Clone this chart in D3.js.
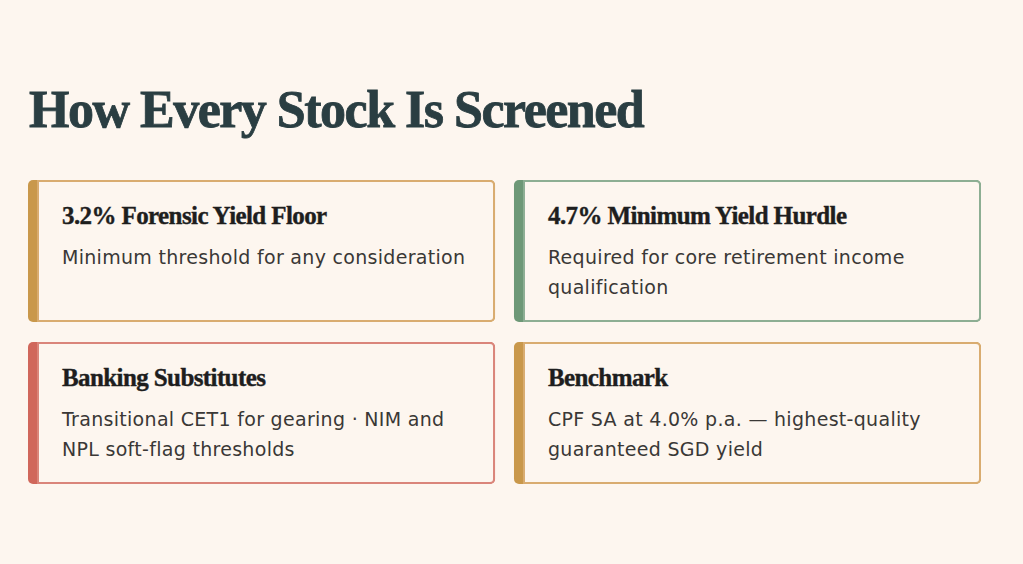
<!DOCTYPE html>
<html>
<head>
<meta charset="utf-8">
<script src="https://cdn.jsdelivr.net/npm/d3@7"></script>
<style>
  html, body { margin: 0; padding: 0; background: #FDF6EF; }
  svg { display: block; }
</style>
</head>
<body>
<svg id="chart" width="1023" height="564"></svg>
<script>
// ---- Data ----
const pageTitle = "How Every Stock Is Screened";
const cardTitles = [
  "3.2% Forensic Yield Floor",
  "4.7% Minimum Yield Hurdle",
  "Banking Substitutes",
  "Benchmark"
];
const cardBodies = [
  ["Minimum threshold for any consideration"],
  ["Required for core retirement income", "qualification"],
  ["Transitional CET1 for gearing · NIM and", "NPL soft-flag thresholds"],
  ["CPF SA at 4.0% p.a. — highest-quality", "guaranteed SGD yield"]
];
const cardAccent = ["gold", "green", "red", "gold"];

// ---- Styles ----
const palette = {
  gold:  { bar: "#C9984B", border: "#D9AC70" },
  green: { bar: "#6E9877", border: "#8DAE93" },
  red:   { bar: "#D0675B", border: "#DA857A" }
};

const svg = d3.select("#chart");
const W = 1023, H = 564;

svg.append("rect").attr("width", W).attr("height", H).attr("fill", "#FDF6EF");

svg.append("text")
  .attr("x", 29).attr("y", 127)
  .attr("font-family", "Liberation Serif, serif")
  .attr("font-weight", 700)
  .attr("font-size", 52)
  .attr("letter-spacing", -1.5)
  .attr("fill", "#2A3E42")
  .attr("stroke", "#2A3E42")
  .attr("stroke-width", 0.8)
  .text(pageTitle);

// grid layout
const cols = d3.scaleBand().domain([0, 1]).range([28, 981]).paddingInner(0.039);
const rows = d3.scaleBand().domain([0, 1]).range([180, 484]).paddingInner(0.1235);

const cards = svg.selectAll("g.card")
  .data(cardTitles.map((t, i) => ({ title: t, body: cardBodies[i], accent: cardAccent[i], i })))
  .join("g")
  .attr("class", "card")
  .attr("transform", d => `translate(${cols(d.i % 2)},${rows(Math.floor(d.i / 2))})`);

const cw = cols.bandwidth(), ch = rows.bandwidth();
const r = 5, barW = 10;

cards.append("rect")
  .attr("x", 0).attr("y", 0).attr("width", cw).attr("height", ch)
  .attr("rx", r).attr("ry", r)
  .attr("fill", d => palette[d.accent].bar);

cards.append("path")
  .attr("d", () => {
    const x0 = barW, y0 = 1, x1 = cw - 1, y1 = ch - 1, rr = r - 1;
    return `M${x0},${y0} H${x1 - rr} A${rr},${rr} 0 0 1 ${x1},${y0 + rr} V${y1 - rr} A${rr},${rr} 0 0 1 ${x1 - rr},${y1} H${x0} Z`;
  })
  .attr("fill", "#FDF6EF")
  .attr("stroke", d => palette[d.accent].border)
  .attr("stroke-width", 2);

cards.append("text")
  .attr("x", 34).attr("y", 44)
  .attr("font-family", "Liberation Serif, serif")
  .attr("font-weight", 700)
  .attr("font-size", 25)
  .attr("letter-spacing", -0.6)
  .attr("fill", "#1E1E1E")
  .attr("stroke", "#1E1E1E")
  .attr("stroke-width", 0.4)
  .text(d => d.title);

cards.each(function(d) {
  const g = d3.select(this);
  g.selectAll("text.body")
    .data(d.body)
    .join("text")
    .attr("class", "body")
    .attr("x", 34)
    .attr("y", (t, j) => 84 + j * 30)
    .attr("font-family", "DejaVu Sans, sans-serif")
    .attr("font-size", 19)
    .attr("letter-spacing", 0.3)
    .attr("fill", "#3A3836")
    .text(t => t);
});
</script>
</body>
</html>
